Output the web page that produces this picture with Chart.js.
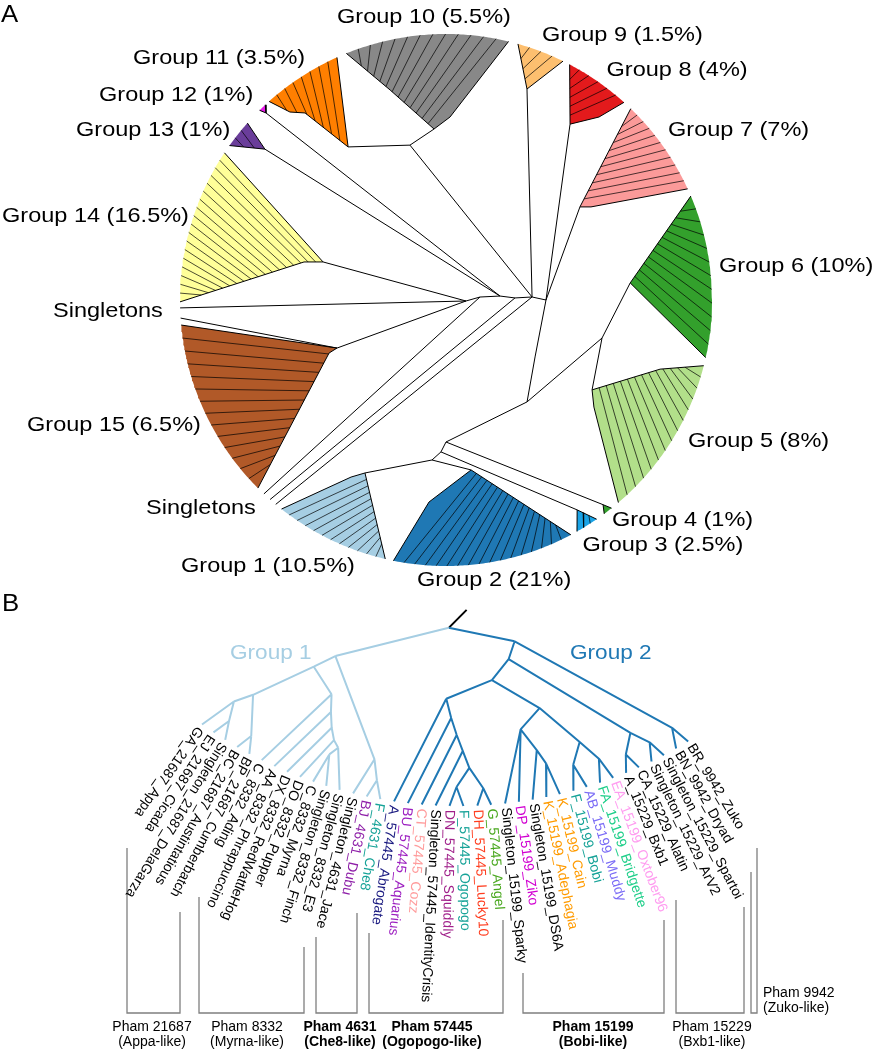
<!DOCTYPE html>
<html><head><meta charset="utf-8">
<script src="https://cdn.jsdelivr.net/npm/chart.js@4.4.0/dist/chart.umd.min.js"></script>
<style>html,body{margin:0;padding:0;background:#fff}canvas{display:block}</style>
</head><body>
<canvas id="c" width="874" height="1050"></canvas>
<script>
// ================= DATA : panel A (circular tree, collapsed groups) =================
const groupLabels = ['Group 1 (10.5%)','Group 2 (21%)','Group 3 (2.5%)','Group 4 (1%)','Group 5 (8%)','Group 6 (10%)','Group 7 (7%)','Group 8 (4%)','Group 9 (1.5%)','Group 10 (5.5%)','Group 11 (3.5%)','Group 12 (1%)','Group 13 (1%)','Group 14 (16.5%)','Group 15 (6.5%)'];
const groupColors = ['#a6cee3','#1f78b4','#1aa3e6','#33a02c','#b2df8a','#33a02c','#fb9a99','#e31a1c','#fdbf6f','#888888','#ff7f00','#e51ae8','#6a3d9a','#ffff99','#b15928'];
// clade arc (compass degrees) and inner clade vertices [branch length r, angle]
const groupArcStart = [193.2,152,145.5,141.5,104.3,67,44,27.7,15.7,338,318.3,315.5,305.5,269.6,225];
const groupArcEnd   = [218.2,191.4,150.5,143.5,139.6,102.5,65.3,42,26.1,373.6,335.8,317.2,311.7,303.6,264.6];
const groupInner = [
  [[200.9,208.2],[191,205.1]],
  [[202.7,184.8],[171.8,171.6]],
  [[247.5,148]],
  [[258,142.5]],
  [[182.6,125.9],[171.5,121.6],[225,107.9]],
  [[185,84.7]],
  [[172.3,57.3],[163.1,55.2]],
  [[238.5,39.9],[215.2,35.2]],
  [[226,21]],
  [[183,361.25],[171.4,356],[217.3,345.1]],
  [[181.7,327.4],[234.2,323],[244.3,320.3]],
  [[259.6,316.1]],
  [[235.7,309.8]],
  [[128.7,287.2],[147,285]],
  [[119.1,246.2],[128.4,245.6]]
];
const groupAttach = [1,1,0,0,1,0,1,1,0,1,0,0,0,0,0];
const groupSubBranches = [11,16,2,0,13,11,10,5,3,12,7,0,2,17,13];
const singletonAngles = [268.3,266.1,223.2,221.4,219.8];
const singletonAttach = ['H1','G15','H2','H4','H5'];
const backboneNodes = {H1:[20,92.9],H2:[34.1,85],H3:[54.1,85.8],H4:[69,88.3],H5:[86.1,88],H6:[100,90],
  L1:[105.7,122.6],L2:[130.2,141.5],L3:[142,180],L3b:[152,181.9],L4:[160.6,185],M:[160.6,103.7],X:[159,346.9]};
const backboneEdges = [['H1','H2'],['H2','H3'],['H3','H4'],['H4','H5'],['H5','H6'],
  ['H1','G14'],['H1','G15'],['H3','G13'],['H3','G12'],['H5','X'],['X','G11'],['X','G10'],['H5','G9'],
  ['H6','G8'],['H6','G7'],['H6','L1'],['L1','L2'],['L2','M'],['M','G6'],['M','G5'],
  ['L2','L3'],['L3','L3b'],['L3b','L4'],['L4','G1'],['L4','G2'],['L3','G4'],['L3b','G3']];

// ================= DATA : panel B (Group 1 + Group 2 cladogram) =================
const leafNames = ['GA_21687_Appa','EJ_21687_Cicada','Singleton_21687_DelaGarza','BC_21687_Austintatious','BP_21687_Cumberbatch',
 'C_8332_Ading','AA_8332_Phrappuccino','DX_8332_RedWattleHog','DO_8332_Pupper','C_8332_Myrna','Singleton_8332_Finch','Singleton_8332_E3',
 'Singleton_4631_Jace','BJ_4631_Dubu','F_4631_Che8',
 'A_57445_Abrogate','BU_57445_Aquarius','CT_57445_Cozz','Singleton_57445_IdentityCrisis','DN_57445_Squiddly','F_57445_Ogopogo','DH_57445_Lucky10','G_57445_Angel',
 'Singleton_15199_Sparky','DP_15199_Ziko','Singleton_15199_DS6A','K_15199_Adephagia','K_15199_Cain','F_15199_Bobi','AB_15199_Muddy','FA_15199_Bridgette','EA_15199_Oxtober96',
 'A_15229_Bxb1','CA_15229_Alatin','Singleton_15229_ArV2','Singleton_15229_Spartoi','BN_9942_Dryad','BR_9942_Zuko'];
const leafColors = ['#000','#000','#000','#000','#000','#000','#000','#000','#000','#000','#000','#000','#000','#8e1fa8','#17a398',
 '#1a1a80','#9c1fc0','#ff9c9c','#000','#a0208a','#17a398','#ff3d1f','#4aa820',
 '#000','#d100d1','#000','#ff9b00','#ff9b00','#17a398','#7b6cf6','#1fcf8a','#ff9cf0',
 '#000','#000','#000','#000','#000','#000'];
// nested clades: [branch radius, children...]; integers are leaf indices
const cladeGroup1 = [317.7,
  [336.2,
    [390, [406, 0, [425, 1, 2]], [426.5, 3, 4]],
    [354.5, 5, [371.5, 6, [386, 7, [397, 8, [403, [412, 9, 10], 11]]]]]
  ],
  [405, 12, [425, 13, 14]]
];
const cladeGroup2 = [284,
  [300.5,
    [319,
      [336, 15, [355, 16, [372, 17, [388, 18, [405, [424, 19, 20], [426, 21, 22]]]]]],
      [354.6, [371.7, 23, 24, [395, 25, [410, 26, 27]]], [398, [418, 28, 29], [420, 30, 31]]]
    ],
    [408, [426, 32, 33], [425, 34, 35]]
  ],
  [423, 36, 37]
];
const rootRadius = 265;
const phamNames = ['Pham 21687','Pham 8332','Pham 4631','Pham 57445','Pham 15199','Pham 15229','Pham 9942'];
const phamLike  = ['(Appa-like)','(Myrna-like)','(Che8-like)','(Ogopogo-like)','(Bobi-like)','(Bxb1-like)','(Zuko-like)'];
const phamBold  = [false,false,true,true,true,false,false];

// ================= LAYOUT =================
const LA = {cx:446, cy:300, R:266};
const LB = {cx:458, cy:363, tipR:443, a0:125.3, da:1.8, labelGap:4};
const groupLabelPos = [[181,572],[417,586],[582.5,551],[612,526],[688,447],[719,272],[668,136],[606.5,76],[542,41],[337,22.5],[133,64],[99,101],[76,136],[2,222],[27,431]];
const singletonLabelPos = [[53,317],[146,514]];
const bracketLayout = [[127,848,180,912],[199,897,304,947],[316,937,357,913],[369,933,503,920],[523,973,664,920],[676,900,744,907],[751,872,757,848]];
const bracketBottom = 1013;
const phamLabelX = [152,247,340,432,593,712,763];
const GAP = {x:null, y:null};
const FONT = '"Liberation Sans", Arial, Helvetica, sans-serif';

function polarA(r, phi){ const t = phi*Math.PI/180; return {x: LA.cx + r*Math.sin(t), y: LA.cy - r*Math.cos(t)}; }
function polarB(r, a){ const t = a*Math.PI/180; return {x: LB.cx + r*Math.cos(t), y: LB.cy + r*Math.sin(t)}; }
function arcPts(a0, a1){ const n = Math.max(2, Math.ceil(Math.abs(a1-a0)/0.5)); const p=[]; for(let k=0;k<=n;k++) p.push(polarA(LA.R, a0+(a1-a0)*k/n)); return p; }
function pathAt(path, s){ // point at fraction s of a polyline's length
  const L=[]; let tot=0; for(let k=1;k<path.length;k++){ const d=Math.hypot(path[k].x-path[k-1].x, path[k].y-path[k-1].y); L.push(d); tot+=d; }
  let t=s*tot; for(let k=0;k<L.length;k++){ if(t<=L[k]||k===L.length-1){ const f=L[k]?Math.min(1,t/L[k]):0; return {x:path[k].x+(path[k+1].x-path[k].x)*f, y:path[k].y+(path[k+1].y-path[k].y)*f}; } t-=L[k]; }
  return path[path.length-1];
}

const datasets = [];
const blackA = [], thinA = [], lightB = [], darkB = [], grayB = [], stubB = [];

// ---- panel A wedges ----
const attachPts = {};
groupLabels.forEach((g,i)=>{
  const arc = arcPts(groupArcStart[i], groupArcEnd[i]);
  const inner = groupInner[i].map(([r,p])=>polarA(r,p));
  datasets.push({data:[...arc, ...inner, arc[0]], showLine:true, fill:'shape', backgroundColor:groupColors[i],
    borderWidth:0, borderColor:'rgba(0,0,0,0)', pointRadius:0, order:5});
  blackA.push(arc[arc.length-1], ...inner, arc[0], GAP);
  attachPts['G'+(i+1)] = inner[groupAttach[i]];
  // inner branches, starting on the clade edge that runs from its deepest vertex to the arc start
  let ai = 0; groupInner[i].forEach(([r],k)=>{ if (r < groupInner[i][ai][0]) ai = k; });
  const edgePath = [...inner.slice(ai), arc[0]];
  const n = groupSubBranches[i];
  for (let k=1;k<=n;k++){
    const s = k/(n+1);
    const P = pathAt(edgePath, s*0.9);
    const Q = polarA(LA.R, groupArcEnd[i]+(groupArcStart[i]-groupArcEnd[i])*s);
    thinA.push(P, Q, GAP);
  }
});
Object.entries(backboneNodes).forEach(([k,[r,p]])=>{ attachPts[k] = polarA(r,p); });
backboneEdges.forEach(([a,b])=>{ blackA.push(attachPts[a], attachPts[b], GAP); });
singletonAngles.forEach((ang,i)=>{ blackA.push(attachPts[singletonAttach[i]], polarA(LA.R, ang), GAP); });

// ---- panel B tree ----
function leafAngle(i){ return LB.a0 - LB.da*i; }
function layoutClade(node){
  if (typeof node === 'number'){ const a = leafAngle(node); return {r:LB.tipR, a, min:a, max:a}; }
  const [r, ...kids] = node; const ch = kids.map(layoutClade);
  const mn = Math.min(...ch.map(c=>c.min)), mx = Math.max(...ch.map(c=>c.max));
  return {r, a:(mn+mx)/2, ch, min:mn, max:mx};
}
function collect(n, out){ if(!n.ch) return; const p = polarB(n.r,n.a); n.ch.forEach(c=>{ out.push(p, polarB(c.r,c.a), GAP); collect(c,out); }); }
const g1 = layoutClade(cladeGroup1), g2 = layoutClade(cladeGroup2);
const rootA = (g1.max + g2.min)/2;
const rootP = polarB(rootRadius, rootA);
lightB.push(rootP, polarB(g1.r,g1.a), GAP); collect(g1, lightB);
darkB.push(rootP, polarB(g2.r,g2.a), GAP); collect(g2, darkB);
stubB.push(rootP, polarB(rootRadius-18, rootA-4));
bracketLayout.forEach(([xl,yl,xr,yr])=>{ grayB.push({x:xl,y:yl},{x:xl,y:bracketBottom},{x:xr,y:bracketBottom},{x:xr,y:yr},GAP); });

const lineDS = (data,color,w)=>({data, showLine:true, fill:false, borderColor:color, borderWidth:w, pointRadius:0, spanGaps:false, order:1, borderJoinStyle:'miter', borderCapStyle:'butt'});
datasets.push(lineDS(thinA,'#000',0.7), lineDS(blackA,'#000',1), lineDS(lightB,'#a6cee3',2), lineDS(darkB,'#1f78b4',2), lineDS(grayB,'#7f7f7f',1.3), lineDS(stubB,'#000',2));

// ---- text plugin ----
function txt(ctx, s, x, y, o={}){
  ctx.save(); ctx.translate(x,y); if(o.rot) ctx.rotate(o.rot); if(o.sx) ctx.scale(o.sx,1);
  ctx.font = `${o.weight||'normal'} ${o.size||14}px ${FONT}`; ctx.fillStyle = o.color||'#000';
  ctx.textAlign = o.align||'left'; ctx.textBaseline = o.baseline||'alphabetic'; ctx.fillText(s,0,0); ctx.restore();
}
const textPlugin = {id:'texts', afterDatasetsDraw(chart){
  const {ctx, scales:{x, y}} = chart; const X = v=>x.getPixelForValue(v), Y = v=>y.getPixelForValue(v);
  txt(ctx,'A',X(1),Y(22),{size:23,sx:1.12});
  txt(ctx,'B',X(2),Y(611),{size:23,sx:1.12});
  groupLabels.forEach((g,i)=>txt(ctx,g,X(groupLabelPos[i][0]),Y(groupLabelPos[i][1]),{size:21,sx:1.12}));
  singletonLabelPos.forEach(([px,py])=>txt(ctx,'Singletons',X(px),Y(py),{size:21,sx:1.12}));
  txt(ctx,'Group 1',X(230),Y(659),{size:20,sx:1.13,color:'#a6cee3'});
  txt(ctx,'Group 2',X(570),Y(659),{size:20,sx:1.13,color:'#1f78b4'});
  leafNames.forEach((n,i)=>{ const a = leafAngle(i); const p = polarB(LB.tipR+LB.labelGap, a);
    txt(ctx,n,X(p.x),Y(p.y),{size:14,rot:a*Math.PI/180,baseline:'middle',color:leafColors[i]}); });
  phamNames.forEach((n,i)=>{ const w = phamBold[i]?'bold':'normal';
    if (i===6){ txt(ctx,n,X(phamLabelX[i]),Y(997),{size:14}); txt(ctx,phamLike[i],X(phamLabelX[i]),Y(1012),{size:14}); }
    else { txt(ctx,n,X(phamLabelX[i]),Y(1031),{size:14,weight:w,align:'center'}); txt(ctx,phamLike[i],X(phamLabelX[i]),Y(1046),{size:14,weight:w,align:'center'}); }
  });
}};

new Chart(document.getElementById('c'), {
  type:'scatter',
  data:{datasets},
  options:{responsive:false, maintainAspectRatio:false, animation:false, events:[],
    layout:{padding:0},
    elements:{point:{radius:0,hoverRadius:0}, line:{tension:0}},
    scales:{x:{type:'linear',min:0,max:874,display:false}, y:{type:'linear',min:0,max:1050,reverse:true,display:false}},
    plugins:{legend:{display:false}, tooltip:{enabled:false}}},
  plugins:[textPlugin]
});
</script>
</body></html>
